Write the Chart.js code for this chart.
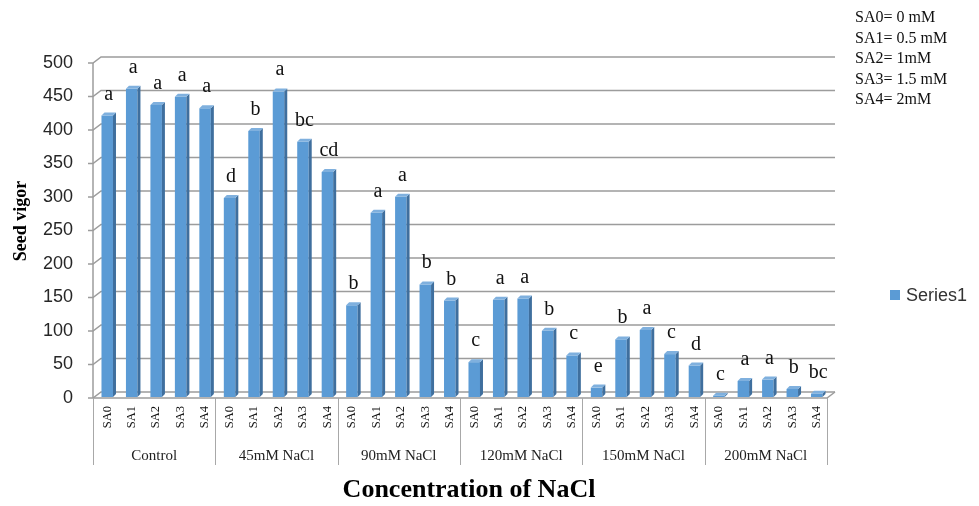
<!DOCTYPE html>
<html>
<head>
<meta charset="utf-8">
<script src="https://cdn.jsdelivr.net/npm/chart.js@4.4.0/dist/chart.umd.min.js"></script>
<style>
  html, body { margin: 0; padding: 0; background: #fff; }
  #wrap { width: 979px; height: 506px; position: relative; }
</style>
</head>
<body>
<div id="wrap"><canvas id="c"></canvas></div>
<script>
// Salt levels (outer category) and salicylic acid treatments (inner category)
const groups = ['Control', '45mM NaCl', '90mM NaCl', '120mM NaCl', '150mM NaCl', '200mM NaCl'];
const treatments = ['SA0', 'SA1', 'SA2', 'SA3', 'SA4'];

// Seed vigor, in group order, SA0..SA4 within each group
const vigor = [
  420, 460, 436, 448, 431,
  297, 397, 456, 381, 336,
  137, 275, 299, 168, 144,
   52, 145, 147,  99,  62,
   14,  86, 100,  64,  47,
    2,  24,  26,  12,   5
];

// Significance letters above each column
const letters = [
  'a', 'a', 'a', 'a', 'a',
  'd', 'b', 'a', 'bc', 'cd',
  'b', 'a', 'a', 'b', 'b',
  'c', 'a', 'a', 'b', 'c',
  'e', 'b', 'a', 'c', 'd',
  'c', 'a', 'a', 'b', 'bc'
];

const yMin = 0, yMax = 500, yStep = 50;
const seriesName = 'Series1';
const keyLines = ['SA0= 0 mM', 'SA1= 0.5 mM', 'SA2= 1mM', 'SA3= 1.5 mM', 'SA4= 2mM'];

const labels = groups.flatMap(() => treatments);

// Pseudo-3D offsets of the front and back planes relative to the bar face plane
const FRONT = { dx: -2, dy: 1 };
const BACK = { dx: 6, dy: -5 };
const DEPTH = 3;
const BAR = '#5b9bd5', BAR_SIDE = '#3f6f9e', BAR_TOP = '#7fb0de';
const GRID = '#9c9c9c';

const deco = {
  id: 'deco',
  beforeDraw(chart) {
    const { ctx, width, height } = chart;
    ctx.save();
    ctx.fillStyle = '#fff';
    ctx.fillRect(0, 0, width, height);
    ctx.restore();
  },
  beforeDatasetsDraw(chart) {
    const { ctx, chartArea: a, scales: { x, y } } = chart;
    ctx.save();
    ctx.strokeStyle = GRID;
    ctx.lineWidth = 1.5;
    const fx = a.left + FRONT.dx, bx = a.left + BACK.dx, bxr = a.right + BACK.dx;
    y.ticks.forEach(t => {
      const py = y.getPixelForValue(t.value);
      ctx.beginPath();
      ctx.moveTo(fx - 5, py + FRONT.dy);
      ctx.lineTo(fx, py + FRONT.dy);
      ctx.lineTo(bx, py + BACK.dy);
      ctx.lineTo(bxr, py + BACK.dy);
      ctx.stroke();
    });
    const y0 = y.getPixelForValue(yMin), yT = y.getPixelForValue(yMax);
    // front vertical axis
    ctx.beginPath();
    ctx.moveTo(fx, y0 + FRONT.dy);
    ctx.lineTo(fx, yT + FRONT.dy);
    ctx.stroke();
    // floor front edge and right edge
    ctx.beginPath();
    ctx.moveTo(fx, y0 + FRONT.dy);
    ctx.lineTo(a.right + FRONT.dx, y0 + FRONT.dy);
    ctx.lineTo(bxr, y0 + BACK.dy);
    ctx.stroke();
    // group dividers under the floor
    ctx.strokeStyle = '#a8a8a8';
    ctx.lineWidth = 1;
    const half = (x.getPixelForValue(1) - x.getPixelForValue(0)) / 2;
    for (let g = 0; g <= groups.length; g++) {
      const idx = Math.min(g * treatments.length, labels.length - 1);
      let px = x.getPixelForValue(idx) + (g * treatments.length >= labels.length ? half : -half);
      px = Math.round(px + FRONT.dx) + 0.5;
      ctx.beginPath();
      ctx.moveTo(px, y0 + FRONT.dy);
      ctx.lineTo(px, 465);
      ctx.stroke();
    }
    ctx.restore();
  },
  afterDatasetsDraw(chart) {
    const { ctx } = chart;
    const meta = chart.getDatasetMeta(0);
    ctx.save();
    meta.data.forEach((bar, i) => {
      const { x, y, base, width } = bar.getProps(['x', 'y', 'base', 'width'], true);
      const l = x - width / 2, r = x + width / 2;
      // right side face
      ctx.fillStyle = BAR_SIDE;
      ctx.beginPath();
      ctx.moveTo(r, y);
      ctx.lineTo(r + DEPTH, y - DEPTH);
      ctx.lineTo(r + DEPTH, base - DEPTH);
      ctx.lineTo(r, base);
      ctx.closePath();
      ctx.fill();
      // top face
      ctx.fillStyle = BAR_TOP;
      ctx.beginPath();
      ctx.moveTo(l, y);
      ctx.lineTo(l + DEPTH, y - DEPTH);
      ctx.lineTo(r + DEPTH, y - DEPTH);
      ctx.lineTo(r, y);
      ctx.closePath();
      ctx.fill();
      // significance letter
      ctx.fillStyle = '#111';
      ctx.font = '20px "Liberation Serif", "Times New Roman", serif';
      ctx.textAlign = 'center';
      ctx.textBaseline = 'alphabetic';
      ctx.fillText(letters[i], x + 1.5, y - 16);
    });
    ctx.restore();
  },
  afterDraw(chart) {
    const { ctx, scales: { x } } = chart;
    ctx.save();
    ctx.fillStyle = '#222';
    // outer category labels
    ctx.font = '15px "Liberation Serif", "Times New Roman", serif';
    ctx.textAlign = 'center';
    ctx.textBaseline = 'middle';
    groups.forEach((g, gi) => {
      const a = x.getPixelForValue(gi * treatments.length);
      const b = x.getPixelForValue(gi * treatments.length + treatments.length - 1);
      ctx.fillText(g, (a + b) / 2 + FRONT.dx, 456);
    });
    // axis titles
    ctx.fillStyle = '#000';
    ctx.font = 'bold 26px "Liberation Serif", "Times New Roman", serif';
    ctx.fillText('Concentration of NaCl', 469, 490);
    ctx.save();
    ctx.translate(21, 221);
    ctx.rotate(-Math.PI / 2);
    ctx.font = 'bold 18px "Liberation Serif", "Times New Roman", serif';
    ctx.fillText('Seed vigor', 0, 0);
    ctx.restore();
    // legend
    ctx.fillStyle = BAR;
    ctx.fillRect(890, 290, 10, 10);
    ctx.fillStyle = '#333';
    ctx.font = '18px "Liberation Sans", Arial, sans-serif';
    ctx.textAlign = 'left';
    ctx.fillText(seriesName, 906, 296);
    // treatment key
    ctx.fillStyle = '#111';
    ctx.font = '16px "Liberation Serif", "Times New Roman", serif';
    keyLines.forEach((t, i) => ctx.fillText(t, 855, 18 + i * 20.5));
    ctx.restore();
  }
};

new Chart(document.getElementById('c'), {
  type: 'bar',
  data: {
    labels: labels,
    datasets: [{
      label: seriesName,
      data: vigor,
      backgroundColor: BAR,
      borderWidth: 0,
      barPercentage: 0.47,
      categoryPercentage: 1.0
    }]
  },
  options: {
    responsive: true,
    maintainAspectRatio: false,
    animation: false,
    layout: { padding: { top: 62, right: 150, left: 0, bottom: 0 } },
    plugins: { legend: { display: false }, tooltip: { enabled: false } },
    scales: {
      x: {
        grid: { display: false, drawTicks: false },
        border: { display: false },
        ticks: {
          autoSkip: false,
          minRotation: 90,
          maxRotation: 90,
          padding: 9,
          color: '#111',
          font: { family: '"Liberation Serif", "Times New Roman", serif', size: 12.5 }
        },
        afterFit(s) { s.height = 109; }
      },
      y: {
        min: yMin,
        max: yMax,
        grid: { display: false, drawTicks: false },
        border: { display: false },
        ticks: {
          stepSize: yStep,
          padding: 22,
          labelOffset: 1,
          color: '#262626',
          font: { family: '"Liberation Sans", Arial, sans-serif', size: 18 }
        },
        afterFit(s) { s.width = 95; }
      }
    }
  },
  plugins: [deco]
});
</script>
</body>
</html>
